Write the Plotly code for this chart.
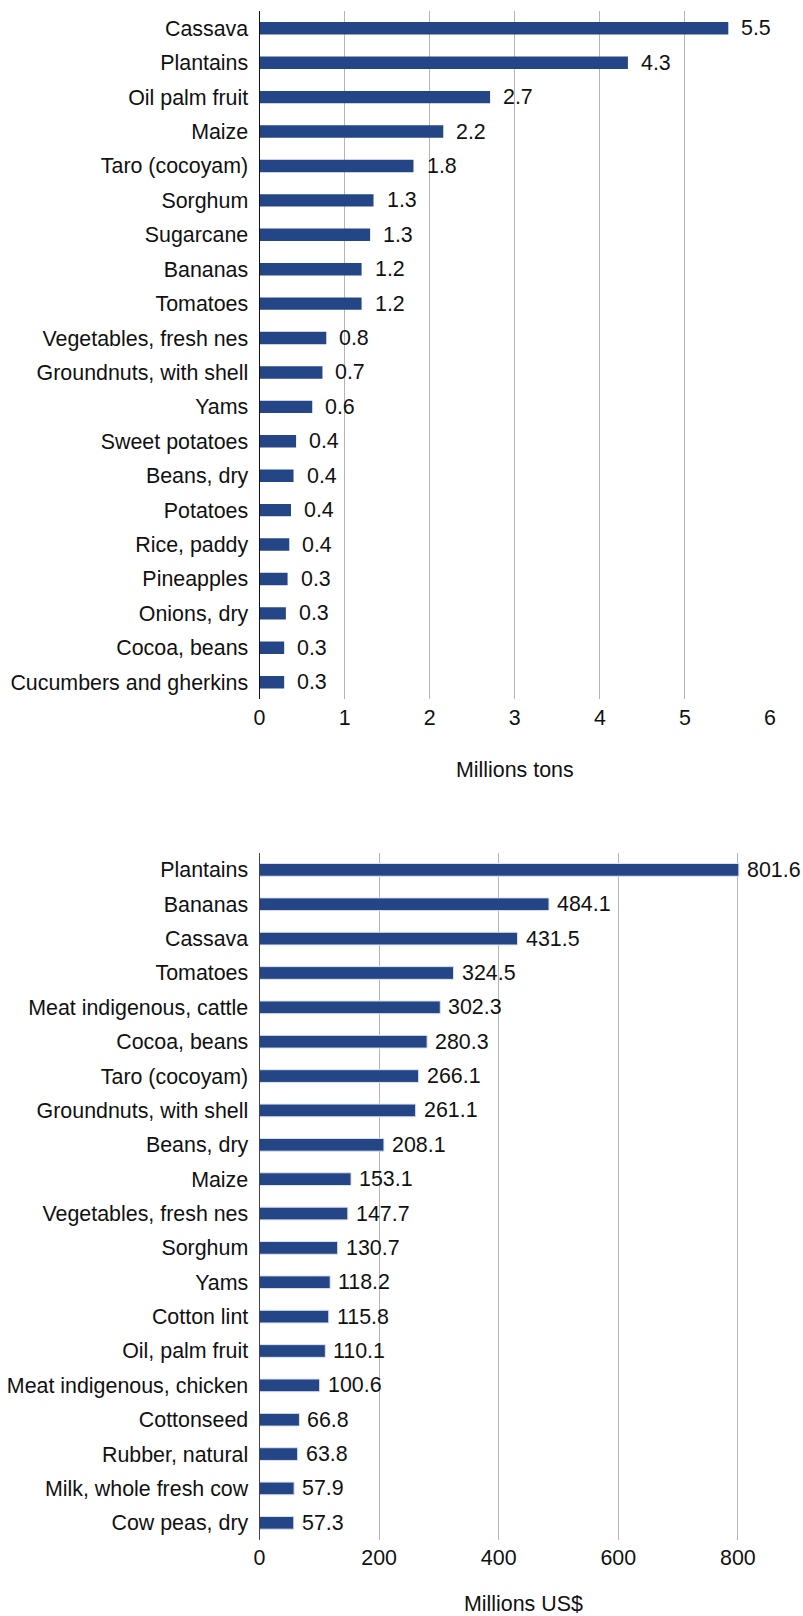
import plotly.graph_objects as go

# ---- Top chart: production (million tons) ----
crops_tons = ["Cassava", "Plantains", "Oil palm fruit", "Maize", "Taro (cocoyam)", "Sorghum",
              "Sugarcane", "Bananas", "Tomatoes", "Vegetables, fresh nes", "Groundnuts, with shell",
              "Yams", "Sweet potatoes", "Beans, dry", "Potatoes", "Rice, paddy", "Pineapples",
              "Onions, dry", "Cocoa, beans", "Cucumbers and gherkins"]
tons_values = [5.51, 4.33, 2.71, 2.16, 1.81, 1.34, 1.30, 1.20, 1.20, 0.785, 0.74, 0.62,
               0.43, 0.40, 0.37, 0.35, 0.33, 0.31, 0.29, 0.29]
tons_labels = ["5.5", "4.3", "2.7", "2.2", "1.8", "1.3", "1.3", "1.2", "1.2", "0.8", "0.7", "0.6",
               "0.4", "0.4", "0.4", "0.4", "0.3", "0.3", "0.3", "0.3"]
tons_ticks = [0, 1, 2, 3, 4, 5, 6]

# ---- Bottom chart: value (million US$) ----
crops_usd = ["Plantains", "Bananas", "Cassava", "Tomatoes", "Meat indigenous, cattle", "Cocoa, beans",
             "Taro (cocoyam)", "Groundnuts, with shell", "Beans, dry", "Maize", "Vegetables, fresh nes",
             "Sorghum", "Yams", "Cotton lint", "Oil, palm fruit", "Meat indigenous, chicken",
             "Cottonseed", "Rubber, natural", "Milk, whole fresh cow", "Cow peas, dry"]
usd_values = [801.6, 484.1, 431.5, 324.5, 302.3, 280.3, 266.1, 261.1, 208.1, 153.1, 147.7,
              130.7, 118.2, 115.8, 110.1, 100.6, 66.8, 63.8, 57.9, 57.3]
usd_labels = [f"{v:.1f}" for v in usd_values]
usd_ticks = [0, 200, 400, 600, 800]

W, H = 803, 1616
BAR = "rgb(36,70,135)"
FONT = "Liberation Sans, Arial, Helvetica, sans-serif"
FS = 21.4

fig = go.Figure()
fig.add_trace(go.Bar(x=tons_values, y=crops_tons, orientation="h", width=0.36,
                     marker=dict(color=BAR, line=dict(width=0)),
                     xaxis="x", yaxis="y", hoverinfo="x+y"))
fig.add_trace(go.Bar(x=usd_values, y=crops_usd, orientation="h", width=0.37,
                     marker=dict(color=BAR, line=dict(color="#dde2ef", width=1)),
                     xaxis="x2", yaxis="y2", hoverinfo="x+y"))

ann = []
for c, v, t in zip(crops_tons, tons_values, tons_labels):
    ann.append(dict(x=v, y=c, xref="x", yref="y", text=t, showarrow=False,
                    xanchor="left", yanchor="middle", xshift=12, borderpad=0,
                    font=dict(family=FONT, size=FS, color="#111")))
for c, v, t in zip(crops_usd, usd_values, usd_labels):
    ann.append(dict(x=v, y=c, xref="x2", yref="y2", text=t, showarrow=False,
                    xanchor="left", yanchor="middle", xshift=7, borderpad=0,
                    font=dict(family=FONT, size=FS, color="#111")))
ann.append(dict(x=0.5, y=0, xref="x domain", yref="y domain", text="Millions tons",
                showarrow=False, xanchor="center", yanchor="middle", yshift=-71,
                font=dict(family=FONT, size=FS, color="#111")))
ann.append(dict(x=0.5, y=0, xref="x2 domain", yref="y2 domain", text="Millions US$",
                showarrow=False, xanchor="center", yanchor="middle", yshift=-64,
                font=dict(family=FONT, size=FS, color="#111")))

x_left = 259.5 / W
top_dom = [1 - 699.4 / H, 1 - 11.1 / H]
bot_dom = [1 - 1540 / H, 1 - 852.7 / H]

common_x = dict(showgrid=True, gridcolor="#b5b5b5", gridwidth=1, zeroline=False,
                showline=False, ticks="", automargin=False, ticklabelstandoff=3,
                tickfont=dict(family=FONT, size=FS, color="#111"))
common_y = dict(showgrid=False, zeroline=False, showline=True, ticks="",
                autorange="reversed", ticklabelstandoff=6, automargin=False,
                tickfont=dict(family=FONT, size=FS, color="#111"))

fig.update_layout(
    width=W, height=H,
    margin=dict(l=0, r=0, t=0, b=0, autoexpand=False),
    paper_bgcolor="white", plot_bgcolor="white",
    showlegend=False, bargap=0.6,
    font=dict(family=FONT, size=FS, color="#111"),
    xaxis=dict(domain=[x_left, 770 / W], range=[0, 6], tickvals=tons_ticks,
               anchor="y", **common_x),
    yaxis=dict(domain=top_dom, anchor="x", linecolor="#111", linewidth=1,
               categoryorder="array", categoryarray=crops_tons, **common_y),
    xaxis2=dict(domain=[x_left, 788 / W], range=[0, (788 - 259.5) / 0.598], tickvals=usd_ticks,
                anchor="y2", **common_x),
    yaxis2=dict(domain=bot_dom, anchor="x2", linecolor="#444", linewidth=1,
                categoryorder="array", categoryarray=crops_usd, **common_y),
    annotations=ann,
)

fig.write_html("out.html")
